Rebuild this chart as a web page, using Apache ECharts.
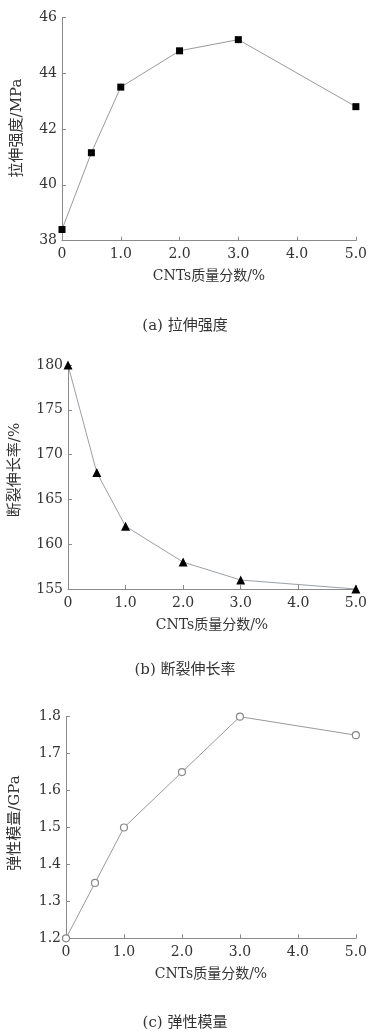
<!DOCTYPE html>
<html>
<head>
<meta charset="utf-8">
<script src="https://cdn.jsdelivr.net/npm/echarts@6/dist/echarts.min.js"></script>
<style>
html,body{margin:0;padding:0;background:#fff;}
#c{width:370px;height:1033px;}
</style>
</head>
<body>
<div id="c"></div>
<script>
// Data
const massFraction = [0, 0.5, 1.0, 2.0, 3.0, 5.0];
const tensileStrength = [38.4, 41.15, 43.5, 44.8, 45.2, 42.8];
const elongation = [180, 168, 162, 158, 156, 155];
const modulus = [1.2, 1.35, 1.5, 1.65, 1.8, 1.75];
const xName = 'CNTs质量分数/%';
const yNames = ['拉伸强度/MPa', '断裂伸长率/%', '弹性模量/GPa'];
const captions = ['(a) 拉伸强度', '(b) 断裂伸长率', '(c) 弹性模量'];

const serif = '"DejaVu Serif","Noto Sans CJK SC",serif';
const axisColor = '#8a8a8a';
const textColor = '#333';

function pairs(ys){ return massFraction.map((x,i)=>[x, ys[i]]); }

const grids = [
  {left:62, top:17.3, right:13.3, height:223.4},
  {left:65, top:365, right:12, height:224},
  {left:63, top:716.7, right:13, height:221.6}
];
const yCfg = [
  {min:38, max:46, interval:2, fmt:v=>String(v), gap:37, pad:[0,0,0,2]},
  {min:155, max:180, interval:5, fmt:v=>String(v), gap:45, pad:[0,0,0,14]},
  {min:1.2, max:1.8, interval:0.1, fmt:v=>v.toFixed(1), gap:43, pad:[0,0,0,9]}
];
const captionTops = [314, 658, 1011];

function xAxis(i){
  return {
    type:'value', gridIndex:i, min:0, max:5, interval:1,
    name:xName, nameLocation:'middle', nameGap:29,
    nameTextStyle:{fontFamily:serif, fontSize:14, color:textColor},
    axisLine:{show:true, lineStyle:{color:axisColor, width:1}},
    axisTick:{show:true, inside:true, length:4, lineStyle:{color:axisColor}},
    axisLabel:{fontFamily:serif, fontSize:14, color:textColor, margin:7,
      formatter:v=> v===0 ? '0' : v.toFixed(1)},
    splitLine:{show:false}
  };
}
function yAxis(i){
  const c = yCfg[i];
  return {
    type:'value', gridIndex:i, min:c.min, max:c.max, interval:c.interval,
    name:yNames[i], nameLocation:'middle', nameGap:c.gap, nameRotate:90,
    nameTextStyle:{fontFamily:serif, fontSize:15, color:textColor, padding:c.pad},
    axisLine:{show:true, lineStyle:{color:axisColor, width:1}},
    axisTick:{show:true, inside:true, length:4, lineStyle:{color:axisColor}},
    axisLabel:{fontFamily:serif, fontSize:14, color:textColor, margin:5,
      formatter:c.fmt},
    splitLine:{show:false}
  };
}

const chart = echarts.init(document.getElementById('c'), null, {renderer:'canvas'});
chart.setOption({
  backgroundColor:'#fff',
  animation:false,
  title: captions.map((t,i)=>({
    text:t, left:'center', top:captionTops[i],
    textStyle:{fontFamily:serif, fontSize:15, fontWeight:'normal', color:textColor}
  })),
  grid: grids,
  xAxis: [0,1,2].map(xAxis),
  yAxis: [0,1,2].map(yAxis),
  series: [
    {type:'line', xAxisIndex:0, yAxisIndex:0, data:pairs(tensileStrength),
     symbol:'rect', symbolSize:7, clip:false,
     itemStyle:{color:'#000'}, lineStyle:{color:'#9a9a9a', width:1}},
    {type:'line', xAxisIndex:1, yAxisIndex:1, data:pairs(elongation),
     symbol:'triangle', symbolSize:9, clip:false,
     itemStyle:{color:'#000'}, lineStyle:{color:'#9aa0a6', width:1}},
    {type:'line', xAxisIndex:2, yAxisIndex:2, data:pairs(modulus),
     symbol:'circle', symbolSize:7, clip:false, showAllSymbol:true,
     itemStyle:{color:'#fff', borderColor:'#888', borderWidth:1.2},
     lineStyle:{color:'#9a9a9a', width:1}}
  ]
});
</script>
</body>
</html>
